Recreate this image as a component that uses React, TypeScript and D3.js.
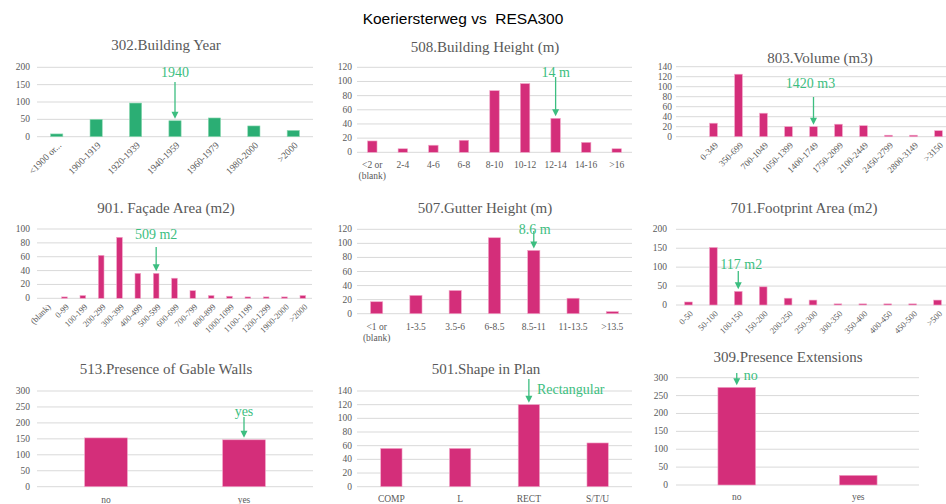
import React from 'react';
import * as d3 from 'd3';

const mainTitle = 'Koeriersterweg vs  RESA300';

const yearCats = ['<1900 or...', '1900-1919', '1920-1939', '1940-1959', '1960-1979', '1980-2000', '>2000'];
const yearVals = [8, 50, 97, 46, 54, 31, 18];

const heightCats = ['<2 or\n(blank)', '2-4', '4-6', '6-8', '8-10', '10-12', '12-14', '14-16', '>16'];
const heightVals = [16, 5, 10, 17, 87, 97, 48, 14, 5];

const volumeCats = ['', '0-349', '350-699', '700-1049', '1050-1399', '1400-1749', '1750-2099', '2100-2449', '2450-2799', '2800-3149', '>3150'];
const volumeVals = [0, 27, 125, 47, 20, 20, 25, 22, 3, 3, 12];

const facadeCats = ['(blank)', '0-99', '100-199', '200-299', '300-399', '400-499', '500-599', '600-699', '700-799', '800-899', '1000-1099', '1100-1199', '1200-1299', '1900-2000', '>2000'];
const facadeVals = [0, 2, 4, 62, 88, 36, 36, 29, 11, 4, 3, 2, 2, 2, 4];

const gutterCats = ['<1 or\n(blank)', '1-3.5', '3.5-6', '6-8.5', '8.5-11', '11-13.5', '>13.5'];
const gutterVals = [17, 26, 33, 108, 90, 22, 3];

const footprintCats = ['0-50', '50-100', '100-150', '150-200', '200-250', '250-300', '300-350', '350-400', '400-450', '450-500', '>500'];
const footprintVals = [8, 152, 36, 48, 18, 13, 3, 3, 3, 3, 13];

const gableCats = ['no', 'yes'];
const gableVals = [153, 147];

const shapeCats = ['COMP', 'L', 'RECT', 'S/T/U'];
const shapeVals = [56, 56, 120, 64];

const extCats = ['no', 'yes'];
const extVals = [273, 27];

const GREEN = '#2BAE74';
const PINK = '#D42E7A';
const ANN = '#3CBE80';
const AXIS_TXT = '#595959';
const GRID = '#D9D9D9';
const SERIF = '"Liberation Serif", "Times New Roman", serif';

type Ann = { text: string; cat: string; textY: number; arrowY1: number; anchor: 'middle' | 'start'; dx?: number };
type Cfg = {
  title: string; titleX: number; titleY: number;
  cats: string[]; vals: number[]; color: string;
  gx0: number; gx1: number; yZero: number; yTop: number; max: number; step: number;
  labelRight: number; rotate: boolean; labelY?: number; labelSize: number;
  ann: Ann;
};

const panels: Cfg[] = [
  { title: '302.Building Year', titleX: 166, titleY: 45, cats: yearCats, vals: yearVals, color: GREEN,
    gx0: 37, gx1: 313, yZero: 136.7, yTop: 67.3, max: 200, step: 50, labelRight: 30, rotate: true, labelSize: 9.5,
    ann: { text: '1940', cat: '1940-1959', textY: 72.7, arrowY1: 82, anchor: 'middle' } },
  { title: '508.Building Height (m)', titleX: 485, titleY: 47, cats: heightCats, vals: heightVals, color: PINK,
    gx0: 357, gx1: 632, yZero: 152.3, yTop: 67.3, max: 120, step: 20, labelRight: 352, rotate: false, labelY: 165, labelSize: 9.5,
    ann: { text: '14 m', cat: '12-14', textY: 72.5, arrowY1: 77, anchor: 'middle' } },
  { title: '803.Volume (m3)', titleX: 820, titleY: 58, cats: volumeCats, vals: volumeVals, color: PINK,
    gx0: 676, gx1: 951, yZero: 136.7, yTop: 66.7, max: 140, step: 20, labelRight: 672, rotate: true, labelSize: 9,
    ann: { text: '1420 m3', cat: '1400-1749', textY: 83.5, arrowY1: 97, anchor: 'middle', dx: -3 } },
  { title: '901. Façade Area (m2)', titleX: 166, titleY: 208, cats: facadeCats, vals: facadeVals, color: PINK,
    gx0: 37, gx1: 312, yZero: 298.3, yTop: 229, max: 100, step: 20, labelRight: 30, rotate: true, labelSize: 8.5,
    ann: { text: '509 m2', cat: '500-599', textY: 234, arrowY1: 247, anchor: 'middle' } },
  { title: '507.Gutter Height (m)', titleX: 485, titleY: 208, cats: gutterCats, vals: gutterVals, color: PINK,
    gx0: 357, gx1: 632, yZero: 313.7, yTop: 229.3, max: 120, step: 20, labelRight: 352, rotate: false, labelY: 327, labelSize: 9.5,
    ann: { text: '8.6 m', cat: '8.5-11', textY: 229, arrowY1: 231, anchor: 'middle', dx: 1 } },
  { title: '701.Footprint Area (m2)', titleX: 804, titleY: 208, cats: footprintCats, vals: footprintVals, color: PINK,
    gx0: 676, gx1: 950, yZero: 305, yTop: 229.3, max: 200, step: 50, labelRight: 667, rotate: true, labelSize: 8.5,
    ann: { text: '117 m2', cat: '100-150', textY: 264, arrowY1: 271, anchor: 'middle', dx: 3 } },
  { title: '513.Presence of Gable Walls', titleX: 166, titleY: 369, cats: gableCats, vals: gableVals, color: PINK,
    gx0: 37, gx1: 313, yZero: 486.7, yTop: 391, max: 300, step: 50, labelRight: 30, rotate: false, labelY: 500, labelSize: 9.5,
    ann: { text: 'yes', cat: 'yes', textY: 411, arrowY1: 417, anchor: 'middle' } },
  { title: '501.Shape in Plan', titleX: 486, titleY: 369, cats: shapeCats, vals: shapeVals, color: PINK,
    gx0: 357, gx1: 632, yZero: 486.7, yTop: 391, max: 140, step: 20, labelRight: 352, rotate: false, labelY: 499, labelSize: 9.5,
    ann: { text: 'Rectangular', cat: 'RECT', textY: 389, arrowY1: 379, anchor: 'start', dx: 8 } },
  { title: '309.Presence Extensions', titleX: 788, titleY: 357, cats: extCats, vals: extVals, color: PINK,
    gx0: 676, gx1: 919, yZero: 485, yTop: 377.7, max: 300, step: 50, labelRight: 668, rotate: false, labelY: 497, labelSize: 9.5,
    ann: { text: 'no', cat: 'no', textY: 375, arrowY1: 373, anchor: 'start', dx: 7 } },
];

function Panel({ c }: { c: Cfg }) {
  const x = d3.scaleBand<string>().domain(c.cats).range([c.gx0, c.gx1]).paddingInner(0.69).paddingOuter(0.345);
  const y = d3.scaleLinear().domain([0, c.max]).range([c.yZero, c.yTop]);
  const ticks = d3.range(0, c.max + 0.001, c.step);
  const bw = x.bandwidth();
  const ai = c.cats.indexOf(c.ann.cat);
  const ax = (x(c.ann.cat) as number) + bw / 2;
  const tipY = y(c.vals[ai]) - 2;
  return (
    <g>
      <text x={c.titleX} y={c.titleY} textAnchor="middle" dominantBaseline="central"
        fontFamily={SERIF} fontSize={15} fill={AXIS_TXT}>{c.title}</text>
      {ticks.map(t => (
        <g key={t}>
          <line x1={c.gx0} x2={c.gx1} y1={y(t)} y2={y(t)} stroke={GRID} strokeWidth={1} />
          <text x={c.labelRight} y={y(t)} textAnchor="end" dominantBaseline="central"
            fontFamily={SERIF} fontSize={9.5} fill={AXIS_TXT}>{t}</text>
        </g>
      ))}
      {c.cats.map((cat, i) => {
        const bx = x(cat) as number;
        return (
          <rect key={'b' + i} x={bx} y={y(c.vals[i])} width={bw} height={c.yZero - y(c.vals[i])}
            fill={c.color} stroke={c.color === GREEN ? '#8FD9B4' : '#F2A6C8'} strokeWidth={0.6} />
        );
      })}
      {c.cats.map((cat, i) => {
        const cx = (x(cat) as number) + bw / 2;
        if (c.rotate) {
          return (
            <text key={'l' + i} transform={`translate(${cx + 3},${c.yZero + 7}) rotate(-45)`} textAnchor="end"
              dominantBaseline="central" fontFamily={SERIF} fontSize={c.labelSize} fill={AXIS_TXT}>{cat}</text>
          );
        }
        const lines = cat.split('\n');
        return (
          <text key={'l' + i} x={cx} y={c.labelY} textAnchor="middle" dominantBaseline="central"
            fontFamily={SERIF} fontSize={c.labelSize} fill={AXIS_TXT}>
            {lines.map((ln, j) => <tspan key={j} x={cx} dy={j === 0 ? 0 : 11}>{ln}</tspan>)}
          </text>
        );
      })}
      <line x1={ax} x2={ax} y1={c.ann.arrowY1} y2={tipY - 5} stroke={ANN} strokeWidth={1.3} />
      <path d={`M${ax - 3.5},${tipY - 7} L${ax + 3.5},${tipY - 7} L${ax},${tipY} Z`} fill={ANN} />
      <text x={ax + (c.ann.dx ?? 0)} y={c.ann.textY} textAnchor={c.ann.anchor} dominantBaseline="central"
        fontFamily={SERIF} fontSize={14} fill={ANN}>{c.ann.text}</text>
    </g>
  );
}

export default function App() {
  return (
    <svg width={946} height={504} style={{ position: 'absolute', left: 0, top: 0, background: '#fff' }}>
      <rect x={0} y={0} width={946} height={504} fill="#fff" />
      <text x={463} y={18} textAnchor="middle" dominantBaseline="central"
        fontFamily='"Liberation Sans", Arial, sans-serif' fontSize={15.5} fill="#000" xmlSpace="preserve">{mainTitle}</text>
      {panels.map((c, i) => <Panel key={i} c={c} />)}
    </svg>
  );
}
